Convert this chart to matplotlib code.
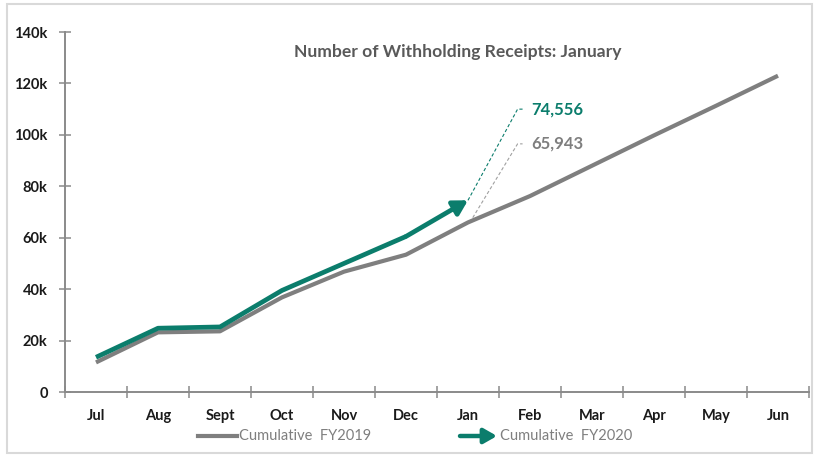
import numpy as np
import matplotlib.pyplot as plt
from matplotlib.lines import Line2D
from matplotlib.patches import Rectangle, FancyArrowPatch
from matplotlib.ticker import FuncFormatter

plt.rcParams['font.family'] = ['Lato', 'DejaVu Sans']

# Chart data
months = ['Jul', 'Aug', 'Sept', 'Oct', 'Nov', 'Dec', 'Jan', 'Feb', 'Mar', 'Apr', 'May', 'Jun']
fy2019 = [11500, 23200, 23600, 36800, 46800, 53400, 65943, 76200, 88000, 99800, 111300, 123000]
fy2020 = [13500, 24800, 25300, 39500, 50000, 60500, 74556]
y_ticks = [0, 20000, 40000, 60000, 80000, 100000, 120000, 140000]

green = '#0b7d6c'
grey = '#7f7f7f'
axis_grey = '#8a8a8a'

fig = plt.figure(figsize=(8.15, 4.57), dpi=100)
ax = fig.add_axes([65 / 815, 1 - 392 / 457, 744 / 815, 360 / 457])

x19 = np.arange(len(fy2019))
x20 = np.arange(len(fy2020))

# FY2019 cumulative line
ax.plot(x19, fy2019, color=grey, lw=3.0, solid_capstyle='butt', zorder=3)

# FY2020 line, last segment as an arrow
ax.plot(x20[:-1], fy2020[:-1], color=green, lw=3.4, solid_capstyle='butt',
        solid_joinstyle='round', zorder=4)
arr = FancyArrowPatch((x20[-2], fy2020[-2]), (x20[-1], fy2020[-1]),
                      arrowstyle='-|>,head_length=0.7,head_width=0.4',
                      mutation_scale=12, color=green, lw=3.4,
                      shrinkA=0, shrinkB=0, zorder=4)
ax.add_patch(arr)

# Dashed leaders and value labels at January
jan = len(fy2020) - 1
lab_x = jan + 0.8
lab20 = 110000
lab19 = 96500
ax.plot([jan, lab_x, lab_x + 0.08], [fy2020[-1], lab20, lab20], color=green,
        lw=0.8, ls=(0, (3, 2)), zorder=2)
ax.plot([jan + 0.03, lab_x, lab_x + 0.08], [fy2019[jan], lab19, lab19], color='#a0a0a0',
        lw=0.8, ls=(0, (3, 2)), zorder=2)
ax.text(lab_x + 0.22, lab20, f'{fy2020[-1]:,}', color=green, fontsize=12,
        fontweight='bold', va='center', ha='left')
ax.text(lab_x + 0.22, lab19, f'{fy2019[jan]:,}', color=grey, fontsize=12,
        fontweight='bold', va='center', ha='left')

# Axes styling
ax.set_xlim(-0.5, len(months) - 0.5)
ax.set_ylim(0, 140000)
ax.set_yticks(y_ticks)
ax.yaxis.set_major_formatter(FuncFormatter(lambda v, p: '0' if v == 0 else f'{int(v / 1000)}k'))
ax.set_xticks(np.arange(len(months) + 1) - 0.5)
ax.set_xticklabels([])
ax.set_xticks(np.arange(len(months)), minor=True)
ax.set_xticklabels(months, minor=True)
ax.tick_params(axis='x', which='major', direction='inout', length=9, width=1.1, color=axis_grey)
ax.tick_params(axis='x', which='minor', length=0, pad=12, labelsize=10.5)
ax.tick_params(axis='y', direction='inout', length=9, width=1.1, color=axis_grey,
               pad=8, labelsize=10.5)
for lab in ax.get_xticklabels(minor=True) + ax.get_yticklabels():
    lab.set_fontweight('bold')
    lab.set_color('#1a1a1a')
for s in ['top', 'right']:
    ax.spines[s].set_visible(False)
for s in ['left', 'bottom']:
    ax.spines[s].set_color(axis_grey)
    ax.spines[s].set_linewidth(1.4)

# Title
fig.text(458 / 815, 1 - 52 / 457, 'Number of Withholding Receipts: January',
         ha='center', va='center', fontsize=12.6, fontweight='bold', color='#595959')

# Legend (drawn by hand to get the arrow marker)
fig.add_artist(Line2D([198 / 815, 237 / 815], [1 - 436 / 457] * 2, color=grey, lw=3.0))
fig.text(239 / 815, 1 - 436 / 457, 'Cumulative  FY2019', ha='left', va='center',
         fontsize=10.5, color=grey)
fig.add_artist(FancyArrowPatch((460 / 815, 1 - 436 / 457), (497 / 815, 1 - 436 / 457),
                               transform=fig.transFigure,
                               arrowstyle='-|>,head_length=0.7,head_width=0.4',
                               mutation_scale=11, color=green, lw=3.2,
                               shrinkA=0, shrinkB=0))
fig.text(500 / 815, 1 - 436 / 457, 'Cumulative  FY2020', ha='left', va='center',
         fontsize=10.5, color=grey)

# Light frame around the chart
fig.add_artist(Rectangle((7 / 815, 4 / 457), 805 / 815, 449 / 457, transform=fig.transFigure,
                         fill=False, edgecolor='#d9d9d9', lw=1.5))

fig.savefig('out.png', dpi=100)
